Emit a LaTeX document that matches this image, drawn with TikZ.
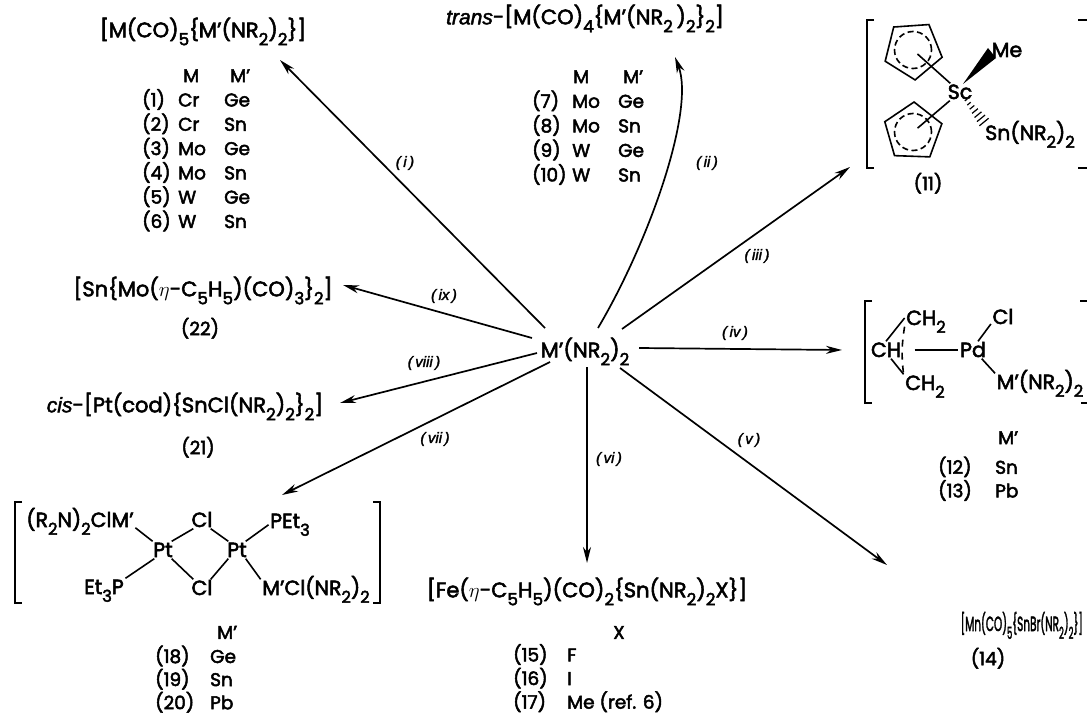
\documentclass[tikz,border=0pt]{standalone}
\usepackage{fontspec}
\setmainfont{Poppins}[RawFeature={embolden=2.6}]
\newfontfamily\labfont{Liberation Sans}[RawFeature={embolden=2}]
\usetikzlibrary{arrows.meta,shapes.geometric}
\newcommand\sbs[1]{\raisebox{-0.38em}{\scalebox{0.8}{#1}}}
\newcommand\fbig{\fontsize{21}{24}\selectfont}
\newcommand\fmid{\fontsize{20.5}{24}\selectfont}
\newcommand\ftab{\fontsize{18.5}{21}\selectfont}
\newcommand\flab{\labfont\itshape\fontsize{15}{17}\selectfont}
\newcommand\pr{’}
\newsavebox\mnbox
\begin{document}
\sbox\mnbox{\fontsize{20.5}{24}\selectfont [Mn(CO)\sbs5\{SnBr(NR\sbs2)\sbs2\}]}%
\begin{tikzpicture}[x=1pt,y=-1pt,
 arr/.style={line width=1.7pt,-{Stealth[length=16pt,width=8pt,inset=5pt]}},
 bond/.style={line width=1.6pt},
 fml/.style={inner sep=0pt,font=\fbig,text height=14.6pt,text depth=0pt},
 chem/.style={inner sep=1.5pt,font=\fmid,text height=14pt,text depth=0pt},
 tabn/.style={inner sep=0pt,anchor=north west},
 lab/.style={inner sep=0pt,font=\flab},
 cmpd/.style={inner sep=0pt,font=\ftab,text height=12.5pt,text depth=0pt},
 ring/.style={regular polygon,regular polygon sides=5,minimum size=60pt,draw,line width=1.6pt,inner sep=0pt},
 dring/.style={circle,draw,line width=1.6pt,dash pattern=on 6pt off 3.5pt,minimum size=37pt,inner sep=0pt},
]
\useasboundingbox (0,0) rectangle (1087,714);

% centre
\node[fml] (c) at (585,350) {M\pr(NR\sbs2)\sbs2};

% (1)-(6)
\node[fml] (p1) at (203,30) {[M(CO)\sbs5\{M\pr(NR\sbs2)\sbs2\}]};
\node[tabn,font=\fontsize{18.5}{23.4}\selectfont] (t1) at (142,65.6) {\begin{tabular}{@{}p{36pt}@{}p{46pt}@{}l@{}}
 & \hspace{5pt}M & \hspace{6pt}M\pr\\
(1) & Cr & Ge\\ (2) & Cr & Sn\\ (3) & Mo & Ge\\ (4) & Mo & Sn\\ (5) & W & Ge\\ (6) & W & Sn
\end{tabular}};

% (7)-(10)
\node[fml] (p2) at (585,17) {{\labfont\itshape trans}-[M(CO)\sbs4\{M\pr(NR\sbs2\,)\sbs2\}\sbs2]};
\node[tabn,font=\fontsize{18.5}{24.3}\selectfont] (t2) at (532,66) {\begin{tabular}{@{}p{40pt}@{}p{46pt}@{}l@{}}
 & \hspace{1pt}M & \hspace{5pt}M\pr\\
(7) & Mo & Ge\\ (8) & Mo & Sn\\ (9) & W & Ge\\ (10) & W & Sn
\end{tabular}};

% (11)
\node[ring,rotate=184] (r1) at (913,50) {};
\node[dring] (d1) at (913,50) {};
\node[ring,rotate=-2] (r2) at (913,132) {};
\node[dring] (d2) at (913,132) {};
\node[chem] (sc) at (960,92) {Sc};
\node[chem] (me) at (1007,50) {Me};
\node[chem] (sn) at (1030,133) {Sn(NR\sbs2)\sbs2};
\draw[bond,shorten <=6pt] (r1.center) -- (sc);
\draw[bond,shorten <=6pt] (r2.center) -- (sc);
\fill (963,84) -- (988,48) -- (996,58) -- cycle;
\foreach \i in {0,...,6}{
  \pgfmathsetmacro\px{966+3*\i}
  \pgfmathsetmacro\py{100+3.67*\i}
  \pgfmathsetmacro\w{1.5+0.75*\i}
  \draw[line width=1.2pt] ({\px-0.77*\w},{\py+0.63*\w}) -- ({\px+0.77*\w},{\py-0.63*\w});
}
\draw[bond] (874,20) -- (867,20) -- (867,168) -- (874,168);
\draw[bond] (1078,20) -- (1087,20);
\draw[bond] (1078,168) -- (1087,168);
\node[cmpd] (n11) at (928,184) {(11)};

% (12),(13)
\node[chem] (ch) at (886,350) {CH};
\node[chem] (ct) at (926,318) {CH\sbs2};
\node[chem] (cb) at (925,383) {CH\sbs2};
\node[chem] (pd) at (973,350) {Pd};
\node[chem] (cl) at (1003,317) {Cl};
\node[chem] (mp) at (1040,382) {M\pr(NR\sbs2)\sbs2};
\draw[bond] (ch.north) -- (ct.west);
\draw[bond] (ch.-60) -- (cb.north west);
\draw[bond,dash pattern=on 7pt off 6pt] (ct.south west) to[bend right=8] (cb.north west);
\draw[bond,shorten <=12pt] (ch.east) -- (pd.west);
\draw[bond] (pd.60) -- (cl.-150);
\draw[bond] (pd.-45) -- (mp.north west);
\draw[bond] (872,301) -- (865,301) -- (865,403) -- (872,403);
\draw[bond] (1080,301) -- (1087,301);
\draw[bond] (1081,403) -- (1087,403);
\node[tabn,font=\fontsize{18.5}{21}\selectfont] (t12) at (938,429.3) {\begin{tabular}{@{}p{57pt}@{}l@{}}
 & \hspace{3pt}M\pr\\[6pt]
(12) & Sn\\ (13) & Pb
\end{tabular}};

% (14)
\node[inner sep=0pt,anchor=base east] (p14) at (1083,631) {\scalebox{\fpeval{122pt/\wd\mnbox}}[1]{\usebox\mnbox}};
\node[cmpd] (n14) at (988,659) {(14)};

% (15)-(17)
\node[fml] (p15) at (587,590) {[Fe($\eta$-C\sbs5H\sbs5)(CO)\sbs2\{Sn(NR\sbs2)\sbs2X\}]};
\node[tabn,font=\fontsize{18.5}{21}\selectfont] (t15) at (513,624) {\begin{tabular}{@{}p{54pt}@{}l@{}}
 \multicolumn{2}{@{}l@{}}{\hspace{100pt}X}\\[-1pt]
(15) & F\\ (16) & I\\ (17) & Me (ref. 6)
\end{tabular}};

% (18)-(20)
\node[chem] (m1) at (80,520) {(R\sbs2N)\sbs2ClM\pr};
\node[chem] (clt) at (202,520) {Cl};
\node[chem] (pe) at (290,521) {PEt\sbs3};
\node[chem] (ptl) at (163,550) {Pt};
\node[chem] (ptr) at (237,550) {Pt};
\node[chem] (ep) at (104,587) {Et\sbs3P};
\node[chem] (clb) at (202,588) {Cl};
\node[chem] (m2) at (316,588) {M\pr Cl(NR\sbs2)\sbs2};
\draw[bond] (m1.-8) -- (ptl.140);
\draw[bond] (ptl.45) -- (clt.225);
\draw[bond] (clt.-45) -- (ptr.135);
\draw[bond] (ptr.45) -- (pe.190);
\draw[bond] (ptl.225) -- (ep.north east);
\draw[bond] (ptl.-45) -- (clb.135);
\draw[bond] (clb.45) -- (ptr.225);
\draw[bond] (ptr.-45) -- (m2.north west);
\draw[bond] (22,502) -- (15,502) -- (15,603) -- (22,603);
\draw[bond] (373,502) -- (380,502) -- (380,603) -- (373,603);
\node[tabn,font=\fontsize{18.5}{19.5}\selectfont] (t18) at (155,625) {\begin{tabular}{@{}p{55pt}@{}l@{}}
 & \hspace{7pt}M\pr\\[1pt]
(18) & Ge\\ (19) & Sn\\ (20) & Pb
\end{tabular}};

% (21), (22)
\node[fml] (p21) at (185,405) {{\labfont\itshape cis}-[Pt(cod)\{SnCl(NR\sbs2)\sbs2\}\sbs2]};
\node[cmpd] (n21) at (198,448) {(21)};
\node[fml] (p22) at (203,289) {[Sn\{Mo($\eta$-C\sbs5H\sbs5)(CO)\sbs3\}\sbs2]};
\node[cmpd] (n22) at (200,329) {(22)};

% arrows
\coordinate (s1) at (545,328); \coordinate (e1) at (280,60);
\coordinate (s2) at (598,328); \coordinate (e2) at (675,57);
\coordinate (s3) at (622,329); \coordinate (e3) at (850,167);
\coordinate (s4) at (639,348); \coordinate (e4) at (842,350);
\coordinate (s5) at (620,368); \coordinate (e5) at (887,565);
\coordinate (s6) at (587,367); \coordinate (e6) at (587,563);
\coordinate (s7) at (550,362); \coordinate (e7) at (282,495);
\coordinate (s8) at (537,353); \coordinate (e8) at (340,403);
\coordinate (s9) at (532,338); \coordinate (e9) at (343,285);
\draw[arr] (s1) -- (e1);
\draw[arr] (s2) .. controls (650,240) and (695,110) .. (e2);
\draw[arr] (s3) -- (e3);
\draw[arr] (s4) -- (e4);
\draw[arr] (s5) -- (e5);
\draw[arr] (s6) -- (e6);
\draw[arr] (s7) -- (e7);
\draw[arr] (s8) -- (e8);
\draw[arr] (s9) -- (e9);

% labels
\node[lab] (l1) at (405,163) {(\,i\,)};
\node[lab] (l2) at (707,163) {(\,ii\,)};
\node[lab] (l3) at (757,256) {(\,iii\,)};
\node[lab] (l4) at (735,333) {(\,iv\,)};
\node[lab] (l5) at (749,440) {(\,v\,)};
\node[lab] (l6) at (609,459) {(\,vi\,)};
\node[lab] (l7) at (435,439) {(\,vii\,)};
\node[lab] (l8) at (424,363) {(\,viii\,)};
\node[lab] (l9) at (444,296) {(\,ix\,)};
\end{tikzpicture}
\end{document}
